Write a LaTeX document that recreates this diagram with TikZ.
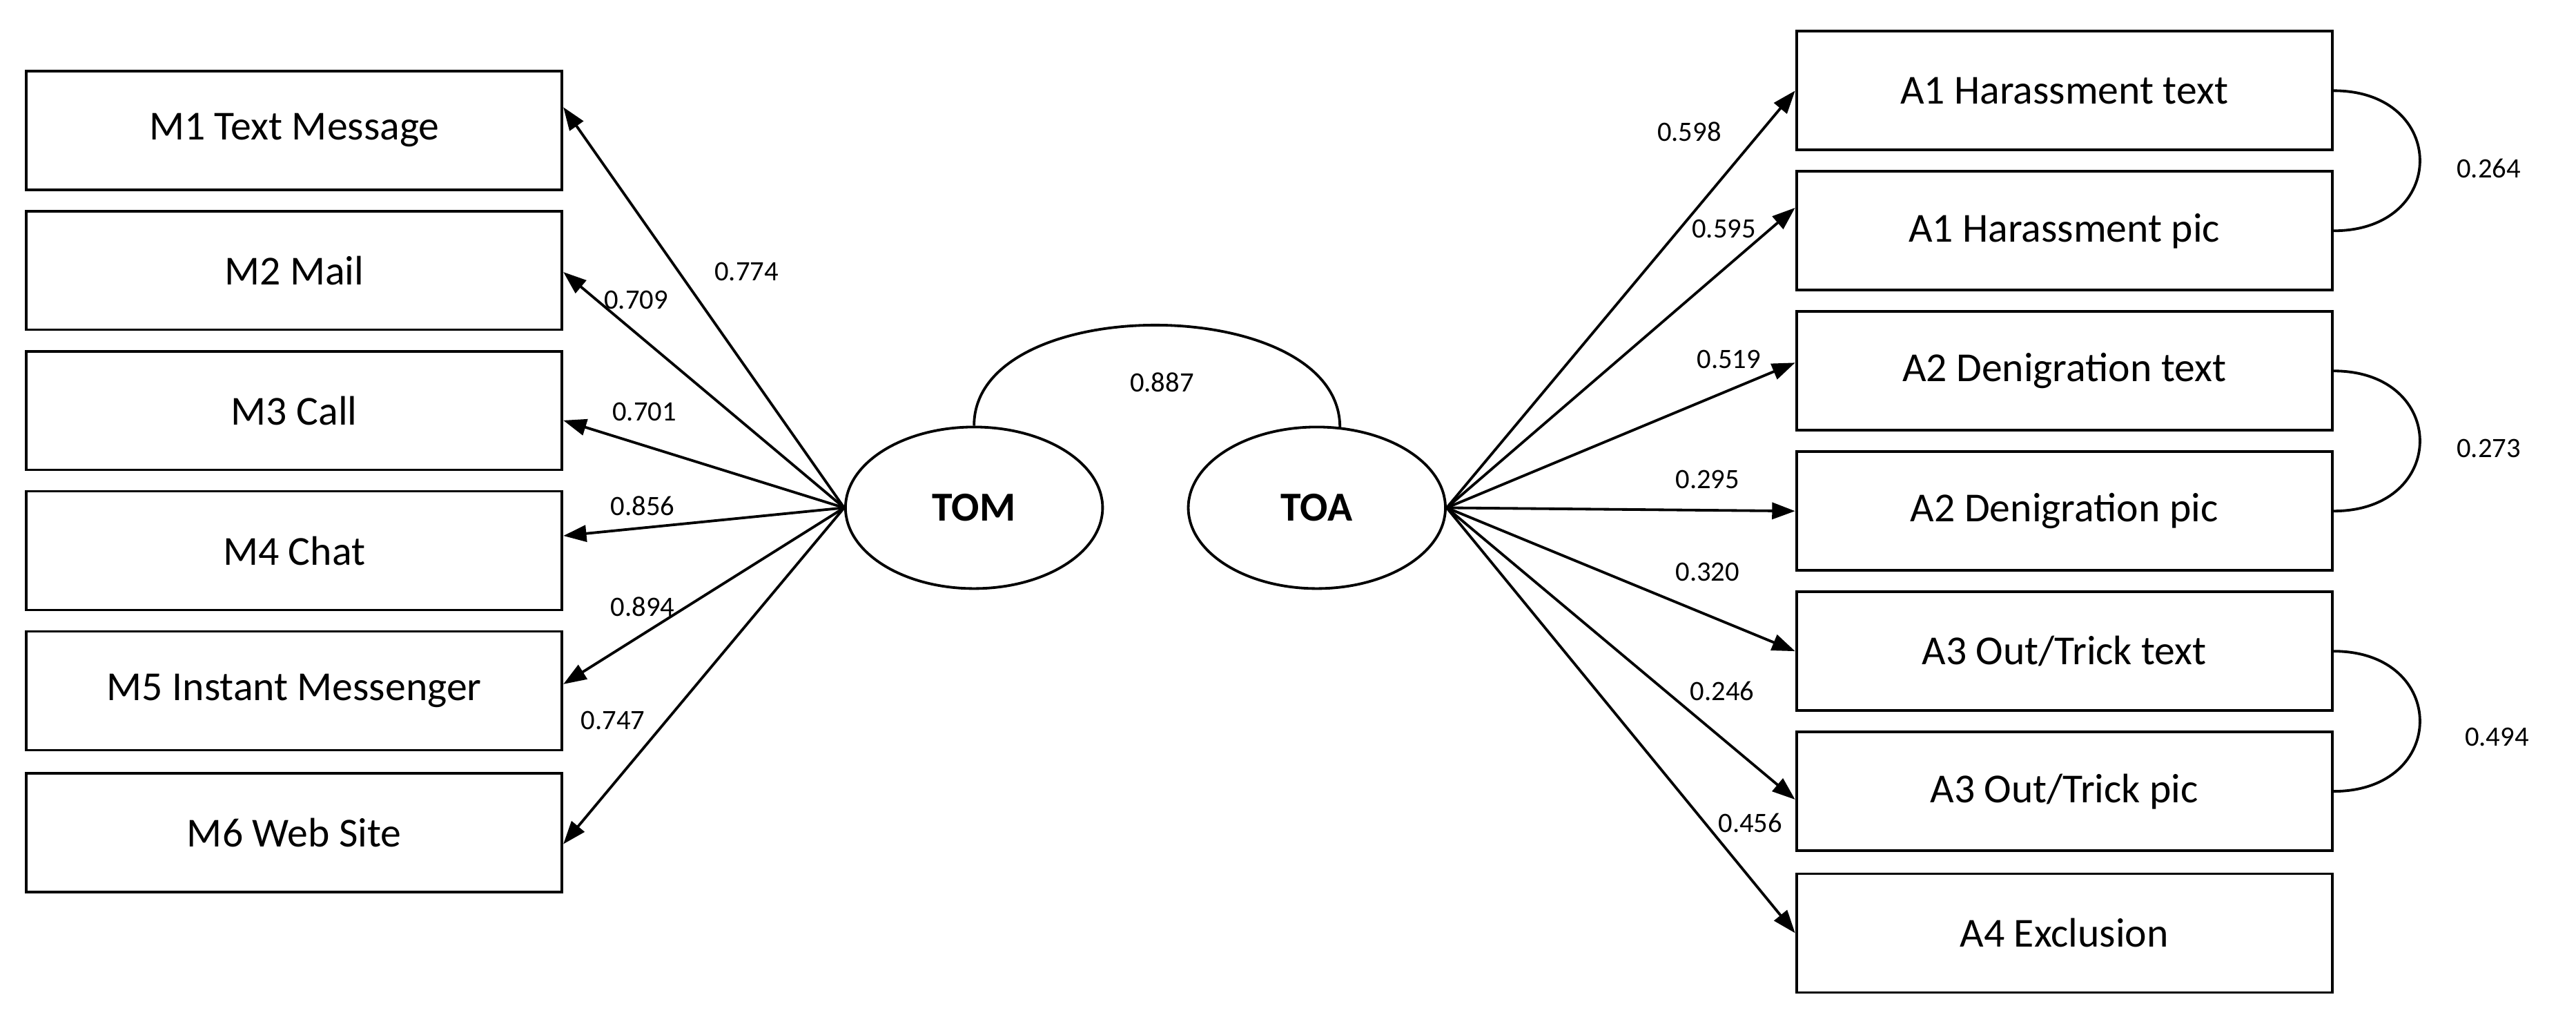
\documentclass[tikz,border=0pt]{standalone}
\usepackage{fontspec}
\setmainfont{Carlito}
\usetikzlibrary{arrows.meta,shapes.geometric}
\begin{document}
\begin{tikzpicture}[x=0.5pt,y=-0.5pt,
 box/.style={draw,line width=0.8pt,minimum width=162.5pt,minimum height=36pt,inner sep=0pt,font=\fontsize{12.5}{14}\selectfont},
 lat/.style={draw,ellipse,line width=0.8pt,minimum width=78pt,minimum height=49pt,inner sep=0pt,font=\bfseries\fontsize{12.5}{14}\selectfont},
 arr/.style={-{Triangle[length=7pt,width=5pt]},line width=0.8pt},
 lab/.style={font=\fontsize{8.5}{10}\selectfont,inner sep=1pt},
 cov/.style={line width=0.8pt}]
\useasboundingbox (0,0) rectangle (1563,622);
\node[box] (m1) at (178.5,79) {M1 Text Message};
\node[box] (m2) at (178.5,164) {M2 Mail};
\node[box] (m3) at (178.5,249) {M3 Call};
\node[box] (m4) at (178.5,334) {M4 Chat};
\node[box] (m5) at (178.5,419) {M5 Instant Messenger};
\node[box] (m6) at (178.5,505) {M6 Web Site};
\node[box] (a1) at (1252.5,55) {A1 Harassment text};
\node[box] (a1p) at (1252.5,140) {A1 Harassment pic};
\node[box] (a2) at (1252.5,225) {A2 Denigration text};
\node[box] (a2p) at (1252.5,310) {A2 Denigration pic};
\node[box] (a3) at (1252.5,395) {A3 Out/Trick text};
\node[box] (a3p) at (1252.5,480) {A3 Out/Trick pic};
\node[box] (a4) at (1252.5,566) {A4 Exclusion};
\node[lat] (tom) at (591,308) {TOM};
\node[lat] (toa) at (799,308) {TOA};
\draw[arr] (tom.west) -- ([yshift=7pt]m1.east);
\draw[arr] (tom.west) -- ([yshift=-0.5pt]m2.east);
\draw[arr] (tom.west) -- ([yshift=-3pt]m3.east);
\draw[arr] (tom.west) -- ([yshift=4.5pt]m4.east);
\draw[arr] (tom.west) -- ([yshift=2pt]m5.east);
\draw[arr] (tom.west) -- ([yshift=-3.5pt]m6.east);
\draw[arr] (toa.east) -- (a1.west);
\draw[arr] (toa.east) -- ([yshift=7pt]a1p.west);
\draw[arr] (toa.east) -- ([yshift=2.5pt]a2.west);
\draw[arr] (toa.east) -- (a2p.west);
\draw[arr] (toa.east) -- (a3.west);
\draw[arr] (toa.east) -- ([yshift=-2.5pt]a3p.west);
\draw[arr] (toa.east) -- (a4.west);
\draw[cov] (tom.north) .. controls +(0,-82) and +(0,-82) .. ([xshift=7pt,yshift=-0.5pt]toa.north);
\draw[cov] (a1.east) .. controls +(70,0) and +(70,0) .. (a1p.east);
\draw[cov] (a2.east) .. controls +(70,0) and +(70,0) .. (a2p.east);
\draw[cov] (a3.east) .. controls +(70,0) and +(70,0) .. (a3p.east);
\node[lab] (l1) at (453,165) {0.774};
\node[lab] (l2) at (386,182) {0.709};
\node[lab] (l3) at (391,250) {0.701};
\node[lab] (l4) at (390,307) {0.856};
\node[lab] (l5) at (390,368) {0.894};
\node[lab] (l6) at (372,437) {0.747};
\node[lab] (r1) at (1025,80) {0.598};
\node[lab] (r2) at (1046,139) {0.595};
\node[lab] (r3) at (1049,218) {0.519};
\node[lab] (r4) at (1036,291) {0.295};
\node[lab] (r5) at (1036,347) {0.320};
\node[lab] (r6) at (1045,419) {0.246};
\node[lab] (r7) at (1062,499) {0.456};
\node[lab] (c0) at (705,232) {0.887};
\node[lab] (c1) at (1510,102) {0.264};
\node[lab] (c2) at (1510,272) {0.273};
\node[lab] (c3) at (1515,447) {0.494};
\end{tikzpicture}
\end{document}
